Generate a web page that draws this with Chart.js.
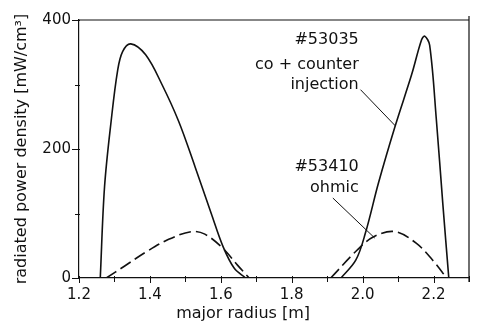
<!DOCTYPE html>
<html>
<head>
<meta charset="utf-8">
<script src="https://cdn.jsdelivr.net/npm/chart.js@4.4.1/dist/chart.umd.min.js"></script>
<style>
    html, body { margin: 0; padding: 0; background: #fff; }
    #wrap { width: 477px; height: 327px; }
</style>
</head>
<body>
<div id="wrap"><canvas id="chart" width="477" height="327"></canvas></div>
<script>
// --- data (major radius [m] vs radiated power density [mW/cm3]) ---
const coR  = [1.260, 1.272, 1.291, 1.309, 1.323, 1.346, 1.388, 1.434, 1.481, 1.527, 1.573, 1.606, 1.638, 1.670];
const coP  = [0, 141, 245, 322, 351, 363, 346, 300, 243, 173, 100, 49, 15, 0];
const coR2 = [1.939, 1.981, 2.008, 2.045, 2.092, 2.138, 2.166, 2.175, 2.189, 2.208, 2.226, 2.243];
const coP2 = [0, 28, 70, 148, 236, 315, 369, 375, 361, 245, 116, 0];

const ohR  = [1.277, 1.330, 1.388, 1.453, 1.518, 1.555, 1.606, 1.647, 1.680];
const ohP  = [0, 19, 40, 60, 72, 68, 46, 20, 0];
const ohR2 = [1.910, 1.984, 2.031, 2.091, 2.151, 2.197, 2.237];
const ohP2 = [0, 43, 64, 72, 54, 28, 0];

// leader lines from the labels to the curves
const leadCoR = [1.994, 2.092];
const leadCoP = [292, 236];
const leadOhR = [1.916, 2.034];
const leadOhP = [124, 62];

const xMin = 1.2, xMax = 2.3;
const yMin = 0, yMax = 400;
const xTitle = 'major radius [m]';
const yTitle = 'radiated power density [mW/cm³]';

const INK = '#111';
const FONT = "'DejaVu Sans', sans-serif";

const pts = (xs, ys) => xs.map((x, i) => ({ x: x, y: ys[i] }));

const solid = { borderColor: INK, borderWidth: 1.6, pointRadius: 0, tension: 0.35, fill: false };
const dashed = { ...solid, borderDash: [12, 5] };
const leader = { borderColor: INK, borderWidth: 1, pointRadius: 0, tension: 0, fill: false };

// frame + tick marks + annotation text + x title
const decor = {
    id: 'decor',
    afterDraw(chart) {
        const { ctx, chartArea: a, scales: { x, y } } = chart;
        ctx.save();
        ctx.strokeStyle = INK;
        ctx.lineWidth = 1.2;
        ctx.beginPath();
        ctx.moveTo(a.left, a.top);
        ctx.lineTo(a.right, a.top);
        ctx.moveTo(a.right, a.top - 4);
        ctx.lineTo(a.right, a.bottom + 4);
        ctx.stroke();

        ctx.lineWidth = 1;
        ctx.beginPath();
        x.ticks.forEach(t => {
            const px = Math.round(x.getPixelForValue(t.value)) + 0.5;
            const major = Math.round(t.value * 10) % 2 === 0;
            ctx.moveTo(px, a.bottom - 2);
            ctx.lineTo(px, a.bottom + (major ? 5 : 4));
        });
        y.ticks.forEach(t => {
            const py = Math.round(y.getPixelForValue(t.value)) + 0.5;
            const major = t.value % 200 === 0;
            ctx.moveTo(a.left + 1, py);
            ctx.lineTo(a.left - (major ? 7 : 4), py);
        });
        ctx.stroke();

        ctx.fillStyle = INK;
        ctx.font = '16px ' + FONT;
        ctx.textAlign = 'right';
        ctx.textBaseline = 'middle';
        const tx = x.getPixelForValue(1.989);
        ctx.fillText('#53035', tx, y.getPixelForValue(369));
        ctx.fillText('co + counter', tx, y.getPixelForValue(330));
        ctx.fillText('injection', tx, y.getPixelForValue(299));
        ctx.fillText('#53410', tx, y.getPixelForValue(172));
        ctx.fillText('ohmic', tx, y.getPixelForValue(140));

        ctx.textAlign = 'center';
        ctx.fillText(xTitle, x.getPixelForValue(1.663), 314);
        ctx.restore();
    }
};

new Chart(document.getElementById('chart'), {
    type: 'line',
    data: {
        datasets: [
            { ...solid, data: pts(coR, coP) },
            { ...solid, data: pts(coR2, coP2) },
            { ...dashed, data: pts(ohR, ohP) },
            { ...dashed, data: pts(ohR2, ohP2) },
            { ...leader, data: pts(leadCoR, leadCoP) },
            { ...leader, data: pts(leadOhR, leadOhP) }
        ]
    },
    options: {
        responsive: false,
        animation: false,
        layout: { padding: { top: 20, right: 3, left: 0, bottom: 0 } },
        plugins: { legend: { display: false }, tooltip: { enabled: false } },
        scales: {
            x: {
                type: 'linear',
                min: xMin, max: xMax,
                grid: { display: false, drawTicks: false },
                border: { display: true, color: INK, width: 1.2 },
                ticks: {
                    stepSize: 0.1,
                    autoSkip: false,
                    maxRotation: 0,
                    padding: 8,
                    color: INK,
                    font: { family: FONT, size: 15 },
                    callback: v => Math.round(v * 10) % 2 === 0 ? v.toFixed(1) : ''
                },
                afterFit: s => { s.height = 49; }
            },
            y: {
                min: yMin, max: yMax,
                grid: { display: false, drawTicks: false },
                border: { display: true, color: INK, width: 1.2 },
                ticks: {
                    stepSize: 100,
                    autoSkip: false,
                    padding: 8,
                    color: INK,
                    font: { family: FONT, size: 15 },
                    callback: v => v % 200 === 0 ? String(v) : ''
                },
                title: {
                    display: true,
                    text: yTitle,
                    color: INK,
                    font: { family: FONT, size: 16 },
                    padding: { top: 12, bottom: 0 }
                },
                afterFit: s => { s.width = 79; }
            }
        }
    },
    plugins: [decor]
});
</script>
</body>
</html>
